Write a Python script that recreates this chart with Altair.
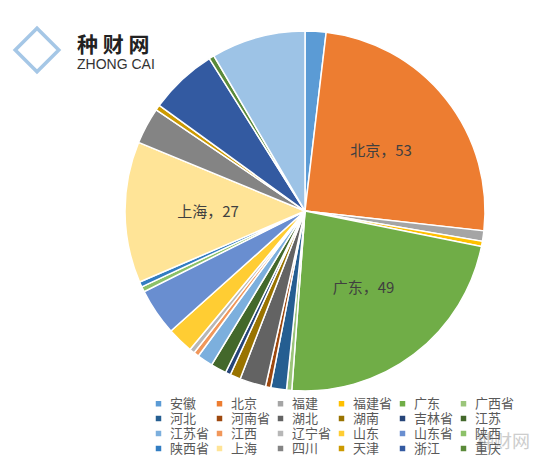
import altair as alt
import pandas as pd

provinces = ["安徽", "北京", "福建", "福建省", "广东", "广西省", "河北", "河南省", "湖北", "湖南",
             "吉林省", "江苏", "江苏省", "江西", "辽宁省", "山东", "山东省", "陕西", "陕西省", "上海",
             "四川", "天津", "浙江", "重庆", "其他"]
counts = [4, 53, 2, 1, 49, 1, 3, 1, 5, 2,
          1, 3, 3, 1, 1, 5, 9, 1, 1, 27,
          7, 1, 13, 1, 18]
colors = ["#5B9BD5", "#ED7D31", "#A5A5A5", "#FFC000", "#70AD47", "#9BC57A", "#255E91", "#9E480E", "#636363", "#997300",
          "#264478", "#43682B", "#7CAFDD", "#F1975A", "#B7B7B7", "#FFCD33", "#698ED0", "#8CC168", "#327DC2", "#FFE497",
          "#848484", "#CC9A00", "#335AA1", "#5A8A39", "#9DC3E6"]
labelled = ["北京", "广东", "上海"]
legend_items = provinces[:24]

df = pd.DataFrame({"province": provinces, "count": counts, "idx": list(range(len(provinces)))})
df["label"] = [f"{p}，{c}" if p in labelled else "" for p, c in zip(provinces, counts)]

FONT = "Noto Sans CJK SC"
CX, CY = 297, 203

base = alt.Chart(df).encode(
    theta=alt.Theta("count:Q", stack=True),
    order=alt.Order("idx:Q"),
)

pie = base.mark_arc(outerRadius=180, stroke="white", strokeWidth=1.5).encode(
    color=alt.Color(
        "province:N",
        sort=provinces,
        scale=alt.Scale(domain=provinces, range=colors),
        legend=alt.Legend(
            values=legend_items, title=None, orient="none", legendX=144, legendY=389,
            columns=6, direction="horizontal", symbolType="square", symbolSize=30, symbolStrokeWidth=0,
            labelFont=FONT, labelFontSize=13, labelColor="#595959", labelOffset=5,
            columnPadding=3, rowPadding=1, gridAlign="all", padding=0,
        ),
    ),
    x=alt.value(CX), y=alt.value(CY),
)

labels = base.mark_text(radius=97, font=FONT, fontSize=15, color="#404040").encode(
    text="label:N", x=alt.value(CX), y=alt.value(CY),
)

logo_df = pd.DataFrame({"t": ["种 财 网"]})
logo_mark = alt.Chart(logo_df).mark_point(shape="diamond", filled=False, size=1900, strokeWidth=3.5,
                                           color="#7FB0DC").encode(x=alt.value(29), y=alt.value(42))
logo_title = alt.Chart(logo_df).mark_text(font=FONT, fontSize=21, fontWeight="bold", color="#222222",
                                          align="left").encode(
    x=alt.value(69), y=alt.value(38), text="t:N")
logo_sub = alt.Chart(pd.DataFrame({"t": ["ZHONG CAI"]})).mark_text(
    font="Liberation Sans", fontSize=14, color="#333333", align="left").encode(
    x=alt.value(69), y=alt.value(57), text="t:N")
wm = alt.Chart(pd.DataFrame({"t": ["种财网"]})).mark_text(
    font=FONT, fontSize=18, color="#CDCDCD", align="left").encode(
    x=alt.value(468), y=alt.value(435), text="t:N")

chart = alt.layer(pie, labels, logo_mark, logo_title, logo_sub, wm).properties(
    width=541, height=451, padding=0,
    autosize=alt.AutoSizeParams(type="none"),
    background="white",
).configure_view(stroke=None)

chart.save("out.html", embed_options={"renderer": "svg", "actions": False})
